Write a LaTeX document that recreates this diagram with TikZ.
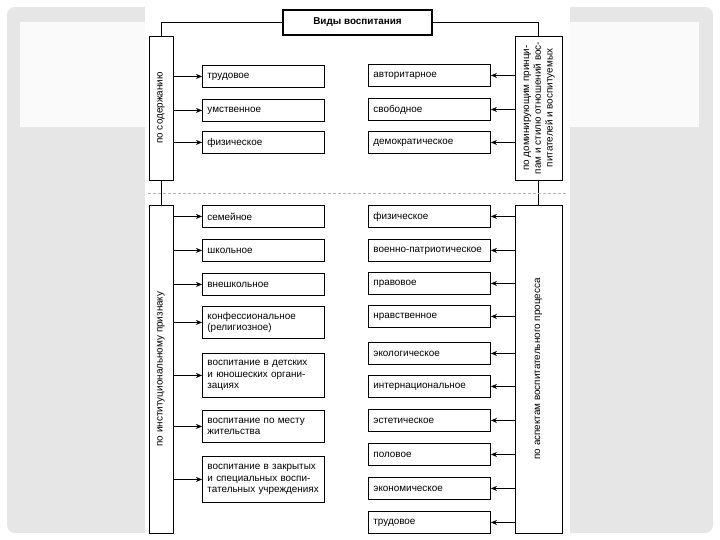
\documentclass[tikz,border=0pt]{standalone}
\usepackage{fontspec}
\setmainfont{Liberation Sans}
\usepackage{graphicx}
\usetikzlibrary{arrows.meta}
\definecolor{slidegrey}{HTML}{E6E6E6}
\definecolor{sepgrey}{HTML}{B4B4B4}

\begin{document}
\begin{tikzpicture}[
    x=1pt, y=-1pt,
    >={Stealth[length=6pt, width=5pt]},
    font=\fontsize{9.9}{11.8}\selectfont,
    item/.style={draw, line width=0.9pt, anchor=north west, inner xsep=5pt,
                 text width=112pt, align=left},
    catbox/.style={draw, line width=0.9pt, inner sep=0pt},
    headbox/.style={draw, line width=1.1pt, minimum width=149pt, minimum height=25pt,
                    font=\fontsize{9.9}{11.8}\selectfont\bfseries},
    link/.style={line width=0.8pt},
]

\useasboundingbox (0,0) rectangle (720,540);

% slide background
\fill[white] (0,0) rectangle (720,540);
\fill[slidegrey, rounded corners=8pt] (7,7) rectangle (713,533);
\fill[white!98!black] (20,22) rectangle (699,127);
\fill[white] (145,0) rectangle (570,540);

% title and the four criteria
\node[headbox] (head) at (357.5,22.5) {Виды воспитания};

\node[catbox, minimum width=24pt, minimum height=144pt] (catL1) at (161,108)
    {\rotatebox{90}{по содержанию}};
\node[catbox, minimum width=47pt, minimum height=144pt] (catR1) at (538.5,108)
    {\rotatebox{90}{\begin{tabular}{@{}c@{}}по доминирующим принци-\\пам и стилю отношений вос-\\питателей и воспитуемых\end{tabular}}};
\node[catbox, minimum width=24pt, minimum height=328pt] (catL2) at (161,369)
    {\rotatebox{90}{по институциональному признаку}};
\node[catbox, minimum width=47pt, minimum height=328pt] (catR2) at (538.5,369)
    {\rotatebox{90}{по аспектам воспитательного процесса}};

\draw[link] (head.west) -| (catL1.north);
\draw[link] (head.east) -| (catR1.north);
\draw[link] (catL1.south) -- (catL2.north);
\draw[link] (catR1.south) -- (catR2.north);

% separator
\draw[sepgrey, line width=0.7pt, dash pattern=on 3pt off 2pt] (148,193) -- (566,193);

% left column
\foreach \n/\y/\h/\txt in {
    1/65/22/трудовое,
    2/99/22/умственное,
    3/131/22/физическое,
    4/205/22/семейное,
    5/239/22/школьное,
    6/273/22/внешкольное,
    7/306/32/{конфессиональное\\(религиозное)},
    8/353/44/{воспитание в детских\\и юношеских органи-\\зациях},
    9/410/32/{воспитание по месту\\жительства},
    10/456/46/{воспитание в закрытых\\и специальных воспи-\\тательных учреждениях}} {
    \node[item, minimum width=122pt, minimum height=\h pt] (L\n) at (202,\y) {\txt};
}

% right column
\foreach \n/\y/\txt in {
    1/64/авторитарное,
    2/98/свободное,
    3/131/демократическое,
    4/205/физическое,
    5/239/военно-патриотическое,
    6/272/правовое,
    7/305/нравственное,
    8/342/экологическое,
    9/375/интернациональное,
    10/409/эстетическое,
    11/443/половое,
    12/477/экономическое,
    13/511/трудовое} {
    \node[item, minimum width=121pt, minimum height=22pt] (R\n) at (368,\y) {\txt};
}

% arrows
\foreach \n in {1,2,3} {
    \draw[link, ->] (catL1.east |- L\n.west) -- (L\n.west);
    \draw[link, ->] (catR1.west |- R\n.east) -- (R\n.east);
}
\foreach \n in {4,...,10} {
    \draw[link, ->] (catL2.east |- L\n.west) -- (L\n.west);
}
\foreach \n in {4,...,13} {
    \draw[link, ->] (catR2.west |- R\n.east) -- (R\n.east);
}

\end{tikzpicture}
\end{document}
